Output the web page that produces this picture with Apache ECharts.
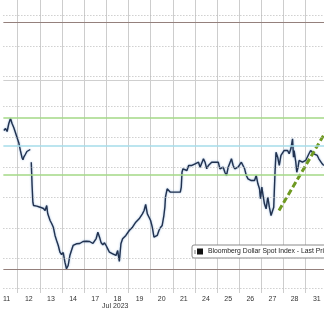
<!DOCTYPE html>
<html>
<head>
<meta charset="utf-8">
<script src="https://cdn.jsdelivr.net/npm/echarts@6/dist/echarts.min.js"></script>
<style>
html,body{margin:0;padding:0;background:#fff;overflow:hidden;}
#chart{width:324px;height:311px;}
</style>
</head>
<body>
<div id="chart"></div>
<script>
// Trading-day labels (x axis bands)
var dayLabels = ['11','12','13','14','17','18','19','20','21','24','25','26','27','28','31'];
var monthLabel = 'Jul 2023';
var seriesName = 'Bloomberg Dollar Spot Index - Last Price';

// Intraday time in trading-day units (0 = start of Jul 11)
var pointTime = [
0.375,0.450,0.522,0.598,0.674,0.745,0.821,0.897,0.969,1.045,1.121,1.192,1.237,1.268,1.343,1.415,1.491,1.567,1.590,
1.612,1.649,1.684,1.715,1.791,1.862,1.938,2.014,2.085,2.161,2.237,2.309,2.353,2.461,2.532,2.608,2.684,2.755,2.831,2.907,
2.979,3.055,3.131,3.202,3.278,3.354,3.426,3.501,3.577,3.649,3.725,3.801,3.872,3.948,4.024,4.096,4.172,4.247,4.319,4.395,
4.471,4.542,4.618,4.694,4.766,4.842,4.918,4.989,5.065,5.141,5.212,5.288,5.364,5.436,5.512,5.588,5.659,5.735,5.811,5.883,
5.959,6.035,6.106,6.182,6.258,6.329,6.405,6.481,6.553,6.629,6.705,6.776,6.852,6.928,6.999,7.075,7.151,7.223,7.299,7.375,
7.446,7.522,7.598,7.643,7.670,7.746,7.821,7.893,7.969,8.045,8.116,8.192,8.268,8.340,8.384,8.416,8.460,8.536,8.639,8.715,
8.786,8.862,8.938,9.010,9.086,9.161,9.233,9.309,9.385,9.457,9.532,9.608,9.680,9.756,9.832,9.903,9.979,10.055,10.127,10.202,
10.278,10.350,10.426,10.502,10.573,10.649,10.725,10.797,10.873,10.948,11.020,11.096,11.172,11.243,11.319,11.395,11.467,11.543,11.619,11.690,
11.766,11.842,11.914,11.958,12.021,12.065,12.137,12.213,12.289,12.360,12.436,12.512,12.557,12.615,12.660,12.736,12.807,12.883,12.959,13.030,
13.106,13.182,13.254,13.330,13.406,13.450,13.477,13.553,13.597,13.656,13.701,13.777,13.852,13.924,14.000,14.076,14.147,14.223,14.299,14.371,
14.447,14.522,14.594,14.670,14.746,14.818
];
var pointValue = [
1236.05,1236.38,1235.88,1237.20,1238.02,1237.20,1236.54,1235.72,1234.89,1234.07,1232.75,1231.60,1231.22,1231.60,1232.09,1232.58,1232.75,1232.91,null,
1230.82,1226.98,1224.23,1223.68,1223.85,1223.57,1223.68,1223.40,1223.57,1223.19,1222.86,1223.68,1222.36,1221.21,1220.72,1220.11,1218.74,1217.91,1217.09,1215.98,
1215.60,1215.93,1214.34,1213.25,1213.79,1215.44,1216.26,1217.09,1217.37,1217.37,1217.58,1217.42,1217.63,1217.75,1217.91,1217.80,1218.08,1217.75,1217.58,1217.42,
1217.63,1218.24,1219.28,1218.46,1217.53,1217.20,1217.53,1217.09,1216.54,1215.98,1216.26,1215.72,1215.98,1215.44,1216.26,1214.45,1217.37,1218.19,1217.91,1218.74,
1218.46,1219.56,1219.28,1220.11,1219.84,1220.93,1220.67,1221.49,1221.21,1222.31,1222.86,1223.85,1222.31,1221.75,1221.21,1220.11,1218.46,1218.19,1218.74,1219.56,
1220.06,1220.39,1222.03,1223.40,1225.05,1226.44,1226.16,1225.88,1226.16,1225.88,1226.04,1225.88,1226.16,1225.88,1226.70,1229.17,1229.73,1230.00,1229.45,1230.28,
1230.00,1230.28,1230.00,1230.56,1230.28,1230.82,1230.00,1230.28,1231.38,1230.82,1229.73,1230.28,1230.00,1230.82,1231.10,1230.82,1231.10,1230.82,1229.73,1229.45,
1230.00,1229.17,1228.63,1230.00,1229.73,1231.38,1230.28,1229.73,1229.45,1230.00,1230.28,1230.82,1230.82,1229.73,1228.63,1228.08,1228.35,1227.80,1228.08,1227.80,
1228.63,1227.26,1226.44,1224.79,1226.70,1225.61,1223.96,1223.14,1225.05,1223.40,1222.03,1222.31,1223.40,1229.17,1232.47,1231.65,1230.28,1231.93,1232.21,1232.75,
1232.47,1232.75,1232.21,1233.03,1234.68,1231.65,1232.75,1230.82,1229.17,1229.99,1231.10,1231.38,1230.82,1230.56,1231.10,1231.38,1232.21,1232.75,1233.03,1232.21,
1232.47,1231.93,1231.38,1231.10,1230.56,1230.28
];

// Trend line (two end points)
var trendTime = [12.794, 14.938];
var trendValue = [1222.86, 1236.05];

// Horizontal reference levels
var refLevels = [1253.846, 1244.286, 1238.187, 1233.571, 1228.791, 1213.132];
var refColors = ['#94807c', '#cfcfcf', '#a3d886', '#a6dcea', '#a3d886', '#94807c'];
var refWidths = [1.2, 1.2, 1.6, 1.6, 1.6, 1.2];

// Grid levels (dotted horizontal) and day boundaries (vertical)
var gridLevels = [1210, 1215, 1220, 1225, 1230, 1235, 1240, 1245, 1250, 1255];
var dayBoundaries = [1, 2, 3, 4, 5, 6, 7, 8, 9, 10, 11, 12, 13, 14];
var labelPositions = dayLabels.map(function (d, i) { return i + 0.5; });

var mainData = pointTime.map(function (t, i) { return [t, pointValue[i]]; });
var trendData = trendTime.map(function (t, i) { return [t, trendValue[i]]; });
var hLines = gridLevels.map(function (v) {
  return { yAxis: v, lineStyle: { color: '#b8b8b8', width: 1, type: [1, 2] } };
});
var refLines = refLevels.map(function (v, i) {
  return { yAxis: v, lineStyle: { color: refColors[i], width: refWidths[i], type: 'solid' } };
});

var FONT = 'Liberation Sans';
var PLOT_H = 293;
var chart = echarts.init(document.getElementById('chart'), null, { renderer: 'canvas' });
function markSeries(name, data, z) {
  return {
    name: name, type: 'line', data: [], z: z, silent: true,
    markLine: { symbol: 'none', silent: true, label: { show: false }, data: data }
  };
}
chart.setOption({
  animation: false,
  backgroundColor: '#ffffff',
  textStyle: { fontFamily: FONT },
  grid: { left: 0, right: 0, top: 0, bottom: 311 - PLOT_H, show: false },
  xAxis: {
    type: 'value', min: 0.35224, max: 14.8262,
    axisLine: { show: false },
    axisTick: {
      show: true, inside: true, length: PLOT_H, customValues: dayBoundaries,
      lineStyle: { color: '#cdcdcd', width: 1 }
    },
    splitLine: { show: false },
    axisLabel: {
      customValues: labelPositions, showMinLabel: true, showMaxLabel: true,
      margin: 3, fontSize: 7, color: '#333', fontFamily: FONT,
      formatter: function (v) { return dayLabels[Math.floor(v)]; }
    }
  },
  yAxis: {
    type: 'value', min: 1209.258, max: 1257.555, show: false
  },
  legend: {
    data: [seriesName],
    left: 192, top: 245,
    padding: [3, 4, 3, 5],
    backgroundColor: '#fff',
    borderColor: '#8a8a8a', borderWidth: 1, borderRadius: 2,
    itemWidth: 6, itemHeight: 6, itemGap: 2,
    icon: 'rect',
    textStyle: { fontSize: 6.8, color: '#222', fontFamily: FONT },
    selectedMode: false
  },
  graphic: [
    { type: 'rect', left: 194, top: 250, shape: { width: 2, height: 4 }, style: { fill: '#bbb' }, z: 100 },
    { type: 'text', left: 102, top: 303, style: { text: monthLabel, fontSize: 7, fill: '#333', fontFamily: FONT } }
  ],
  series: [
    markSeries('hgrid', hLines, 0),
    markSeries('refs', refLines, 1),
    {
      name: seriesName, type: 'line', data: mainData,
      showSymbol: false, symbol: 'none', connectNulls: false, z: 3,
      itemStyle: { color: '#111' },
      lineStyle: { color: '#22324f', width: 1.4, shadowColor: 'rgba(90,140,200,0.7)', shadowBlur: 2 }
    },
    {
      name: 'trend', type: 'line', data: trendData,
      showSymbol: false, symbol: 'none', z: 4,
      lineStyle: { color: '#6f9a22', width: 3, type: [6, 3] }
    }
  ]
});
</script>
</body>
</html>
